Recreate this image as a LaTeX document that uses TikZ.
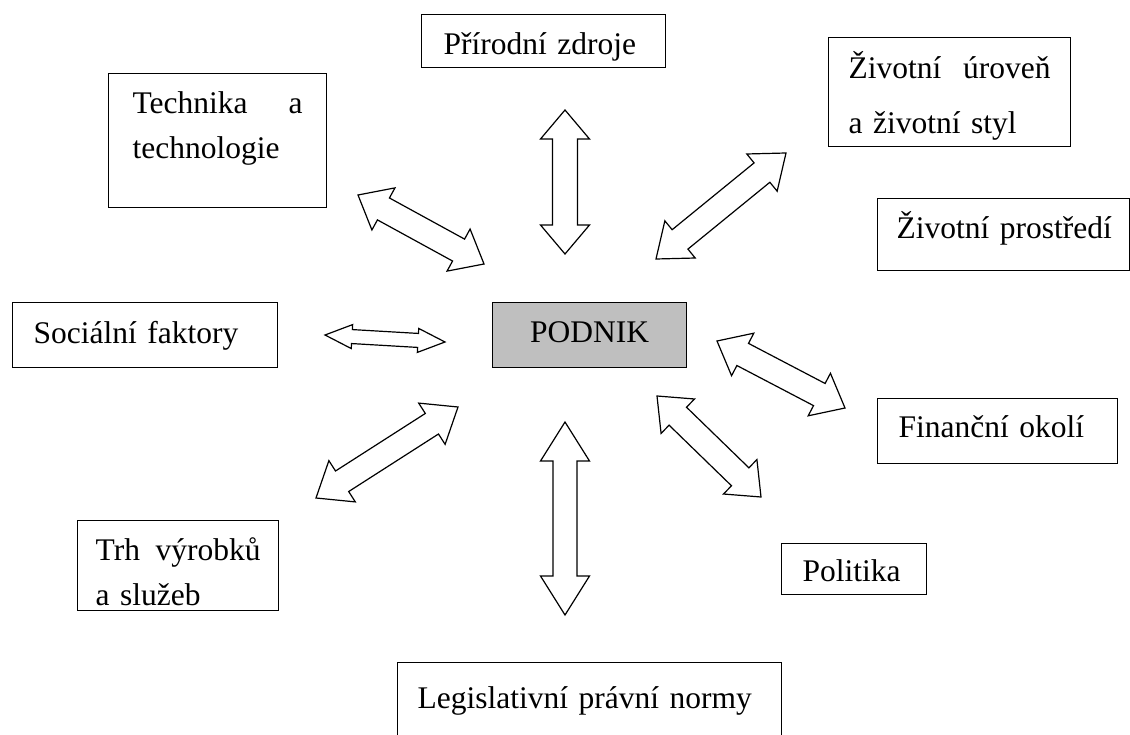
\documentclass[tikz,border=0pt]{standalone}
\usepackage{fontspec}
\setmainfont{Liberation Serif}
\usetikzlibrary{calc}

\tikzset{
  box/.style={draw, line width=1.3pt, anchor=north west, inner ysep=0pt, align=left,
    font=\fontsize{31.5}{45}\selectfont},
  blockarrow/.style={draw, line width=1.2pt, fill=white, line join=miter}
}

% hollow two-headed block arrow between two tips
\newcommand{\twoway}[5]{%
  \draw[blockarrow] (#1)
    -- ($(#1)!#3!(#2)!#4!90:(#2)$) -- ($(#1)!#3!(#2)!#5!90:(#2)$)
    -- ($(#2)!#3!(#1)!#5!-90:(#1)$) -- ($(#2)!#3!(#1)!#4!-90:(#1)$)
    -- (#2)
    -- ($(#2)!#3!(#1)!#4!90:(#1)$) -- ($(#2)!#3!(#1)!#5!90:(#1)$)
    -- ($(#1)!#3!(#2)!#5!-90:(#2)$) -- ($(#1)!#3!(#2)!#4!-90:(#2)$)
    -- cycle;}

\begin{document}
\begin{tikzpicture}[x=1pt, y=-1pt]
  \useasboundingbox (0,0) rectangle (1130,735);

  % boxes
  \node[box, fill=gray!50, align=center, inner xsep=10pt, text width=174pt, text height=40pt, text depth=25pt] (podnik) at (492,302) {PODNIK};
  \node[box, inner xsep=22pt, text width=200pt, text height=40pt, text depth=13pt] (zdroje) at (421,14) {\mbox{Přírodní zdroje}};
  \node[box, inner xsep=20pt, text width=202pt, text height=41pt, text depth=68pt, font=\fontsize{31.5}{55}\selectfont] (uroven) at (828,37) {Životní\hfill úroveň\\a životní styl};
  \node[box, inner xsep=24pt, text width=170pt, text height=40pt, text depth=94pt] (technika) at (108,73) {Technika\hfill a\\technologie};
  \node[box, inner xsep=19pt, text width=214pt, text height=40pt, text depth=32pt] (prostredi) at (877,198) {\mbox{Životní prostředí}};
  \node[box, inner xsep=21pt, text width=223pt, text height=41pt, text depth=24pt] (socialni) at (12,302) {\mbox{Sociální faktory}};
  \node[box, inner xsep=21pt, text width=198pt, text height=39pt, text depth=26pt] (financni) at (877,398) {\mbox{Finanční okolí}};
  \node[box, inner xsep=18pt, text width=165pt, text height=40pt, text depth=50pt] (trh) at (77,520) {Trh\hfill výrobků\\a služeb};
  \node[box, inner xsep=21pt, text width=103pt, text height=38pt, text depth=13pt] (politika) at (781,543) {Politika};
  \node[box, inner xsep=20pt, text width=344pt, text height=46pt, text depth=44pt] (legislativa) at (397,662) {\mbox{Legislativní právní normy}};

  % arrow tips
  \coordinate (zdroje-a) at (565,110);   \coordinate (zdroje-b) at (565,254);
  \coordinate (uroven-a) at (656,259);   \coordinate (uroven-b) at (786,153);
  \coordinate (technika-a) at (358,195); \coordinate (technika-b) at (484,264);
  \coordinate (socialni-a) at (325,335); \coordinate (socialni-b) at (445,342);
  \coordinate (financni-a) at (717,341); \coordinate (financni-b) at (845,408);
  \coordinate (politika-a) at (657,396); \coordinate (politika-b) at (761,497);
  \coordinate (trh-a) at (316,498);      \coordinate (trh-b) at (458,407);
  \coordinate (legislativa-a) at (565,422); \coordinate (legislativa-b) at (565,615);

  % arrows
  \twoway{zdroje-a}{zdroje-b}{29pt}{24.5pt}{12.5pt}
  \twoway{uroven-a}{uroven-b}{31pt}{24pt}{12.5pt}
  \twoway{technika-a}{technika-b}{29pt}{24pt}{12.5pt}
  \twoway{socialni-a}{socialni-b}{27pt}{12pt}{7pt}
  \twoway{financni-a}{financni-b}{29pt}{24pt}{12.5pt}
  \twoway{politika-a}{politika-b}{29pt}{24pt}{12.5pt}
  \twoway{trh-a}{trh-b}{31pt}{24.5pt}{12.2pt}
  \twoway{legislativa-a}{legislativa-b}{39pt}{24.5pt}{12pt}
\end{tikzpicture}
\end{document}
